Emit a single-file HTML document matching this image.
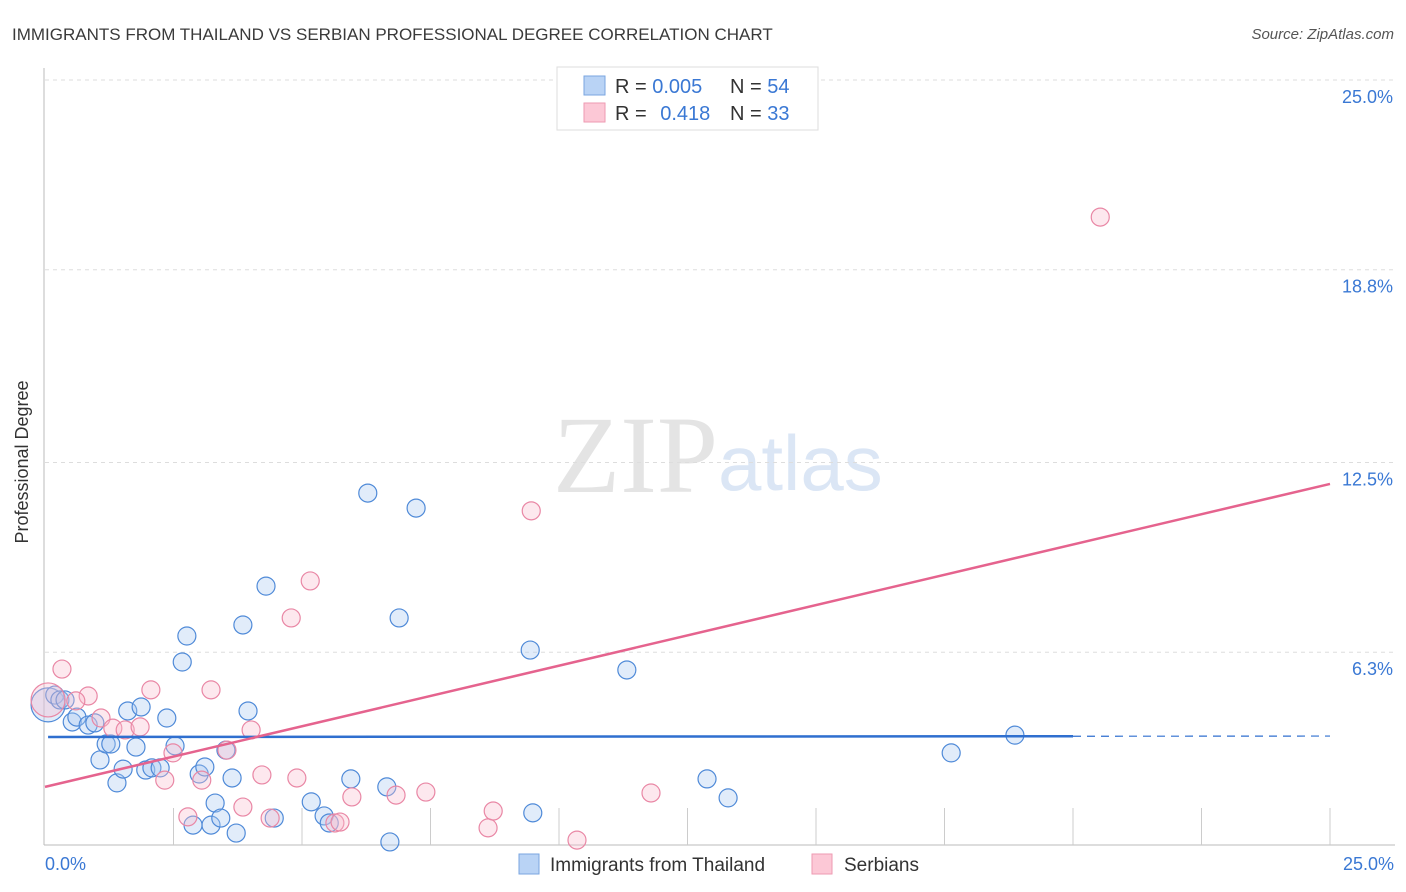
<!DOCTYPE html>
<html><head><meta charset="utf-8"><style>
body{margin:0;background:#fff;font-family:"Liberation Sans",sans-serif;}
svg{display:block}
</style></head><body>
<svg id="chart" width="1406" height="892" xmlns="http://www.w3.org/2000/svg">
<text x="12" y="40" font-size="17" fill="#3a3a3a">IMMIGRANTS FROM THAILAND VS SERBIAN PROFESSIONAL DEGREE CORRELATION CHART</text>
<text x="1394" y="39" font-size="15" fill="#555" font-style="italic" text-anchor="end">Source: ZipAtlas.com</text>
<g>
<text x="553" y="492" font-size="110" font-family="Liberation Serif,serif" fill="#e4e4e4">ZIP</text>
<text x="718" y="490" font-size="78" fill="#dbe6f5">atlas</text>
</g>
<g id="grid"></g>
<g id="axes"></g>
<g id="marks"></g>
<g id="trends"></g>
<text x="22" y="456" font-size="18" fill="#333" text-anchor="middle" transform="rotate(-90 28 456)">Professional Degree</text>
<g>
<rect x="557" y="67" width="261" height="63" fill="#fff" stroke="#ddd"/>
<rect x="584" y="76" width="21" height="19" fill="#b9d3f5" stroke="#7aa6e0"/>
<rect x="584" y="103" width="21" height="19" fill="#fcc8d6" stroke="#ee9ab2"/>
<text x="615" y="93" font-size="20" fill="#333">R = <tspan fill="#3a78d4">0.005</tspan></text>
<text x="730" y="93" font-size="20" fill="#333">N = <tspan fill="#3a78d4">54</tspan></text>
<text x="615" y="120" font-size="20" fill="#333">R = <tspan fill="#3a78d4" dx="8">0.418</tspan></text>
<text x="730" y="120" font-size="20" fill="#333">N = <tspan fill="#3a78d4">33</tspan></text>
</g>
<g>
<rect x="519" y="854" width="20" height="20" fill="#b9d3f5" stroke="#7aa6e0"/>
<text x="550" y="871" font-size="19" fill="#333">Immigrants from Thailand</text>
<rect x="812" y="854" width="20" height="20" fill="#fcc8d6" stroke="#ee9ab2"/>
<text x="844" y="871" font-size="19" fill="#333">Serbians</text>
</g>
</svg>
<script>
const yTicks=[25.0,18.8,12.5,6.3];
const yTickLabels=["25.0%","18.8%","12.5%","6.3%"];
const xTickLabels=["0.0%","25.0%"];
const blueX=[0.06,0.19,0.29,0.39,0.53,0.62,0.84,0.97,1.07,1.19,1.28,1.40,1.52,1.61,1.77,1.87,1.96,2.08,2.24,2.37,2.53,2.67,2.76,2.88,3.00,3.11,3.23,3.31,3.42,3.52,3.64,3.72,3.85,3.95,4.30,4.46,5.18,5.43,5.53,5.95,6.28,6.65,6.71,6.89,7.22,9.44,9.49,11.32,12.88,13.29,17.63,18.87];
const blueY=[4.58,4.90,4.74,4.74,4.02,4.18,3.92,3.99,2.78,3.30,3.30,2.03,2.48,4.38,3.20,4.51,2.45,2.52,2.52,4.15,3.24,5.98,6.83,0.65,2.32,2.55,0.65,1.37,0.88,3.10,2.19,0.39,7.19,4.38,8.46,0.88,1.41,0.95,0.72,2.16,11.50,1.90,0.10,7.42,11.01,6.37,1.05,5.72,2.16,1.54,3.01,3.59];
const pinkX=[0.06,0.33,0.84,0.60,1.09,1.32,1.56,1.85,2.06,2.33,2.49,2.78,3.05,3.23,3.54,3.85,4.01,4.22,4.38,4.79,4.90,5.16,5.64,5.74,5.97,6.83,7.41,8.62,8.72,9.46,10.35,11.79,20.53];
const pinkY=[4.74,5.75,4.87,4.71,4.15,3.82,3.76,3.86,5.07,2.12,3.01,0.92,2.12,5.07,3.10,1.24,3.76,2.29,0.88,7.42,2.19,8.63,0.72,0.75,1.57,1.63,1.73,0.56,1.11,10.92,0.16,1.70,20.52];
const blueTrend=[3.53,3.56];
const pinkTrend=[1.90,11.80];
const NS="http://www.w3.org/2000/svg";
const X0=45,X1=1330,Y0=845,Y1=80;
const sx=v=>X0+(X1-X0)*v/25;
const sy=v=>Y0-(Y0-Y1)*v/25;
function mk(t,a,p){const e=document.createElementNS(NS,t);for(const k in a)e.setAttribute(k,a[k]);p.appendChild(e);return e;}
const grid=document.getElementById('grid'),axes=document.getElementById('axes'),marks=document.getElementById('marks'),trends=document.getElementById('trends');
yTicks.forEach((t,i)=>{
 const l=mk('line',{x1:45,x2:1395,y1:sy(t),y2:sy(t),stroke:'#ddd','stroke-dasharray':'4,4'},grid);
 
 
 const tx=mk('text',{x:1393,y:sy(t)+23,'font-size':18,fill:'#3a78d4','text-anchor':'end'},axes);
 tx.textContent=yTickLabels[i];
 
 
});
mk('line',{x1:44,x2:44,y1:68,y2:845,stroke:'#bbb'},axes);
mk('line',{x1:44,x2:1395,y1:845,y2:845,stroke:'#bbb'},axes);
for(let i=1;i<=10;i++){const x=sx(i*2.5);mk('line',{x1:x,x2:x,y1:808,y2:845,stroke:'#ccc'},axes);}
[[0,'start',45],[1,'end',1394]].forEach(([i,a,x])=>{
 const tx=mk('text',{x:x,y:870,'font-size':18,fill:'#3a78d4','text-anchor':a},axes);
 tx.textContent=xTickLabels[i];
 
 
});
function dots(xs,ys,fill,stroke,name){
 xs.forEach((v,i)=>{
  const c=mk('circle',{cx:sx(v),cy:sy(ys[i]),r:i===0?17:9,fill:fill,'fill-opacity':0.35,stroke:stroke,'stroke-width':1.2},marks);
  
  
 });
}
dots(blueX,blueY,'#a9c8f0','#4f8ad8','thailand-point');
dots(pinkX,pinkY,'#f9bccd','#e987a5','serbian-point');
let l=mk('line',{x1:sx(0.06),x2:sx(20.0),y1:sy(blueTrend[0]),y2:sy(blueTrend[0]+(blueTrend[1]-blueTrend[0])*0.8),stroke:'#2f6fcf','stroke-width':2.5},trends);


l=mk('line',{x1:sx(20.0),x2:sx(25),y1:sy(blueTrend[0]+(blueTrend[1]-blueTrend[0])*0.8),y2:sy(blueTrend[1]),stroke:'#2f6fcf','stroke-width':1.2,'stroke-dasharray':'8,6'},trends);


l=mk('line',{x1:sx(0),x2:sx(25),y1:sy(pinkTrend[0]),y2:sy(pinkTrend[1]),stroke:'#e5638e','stroke-width':2.5},trends);


</script>
</body></html>
